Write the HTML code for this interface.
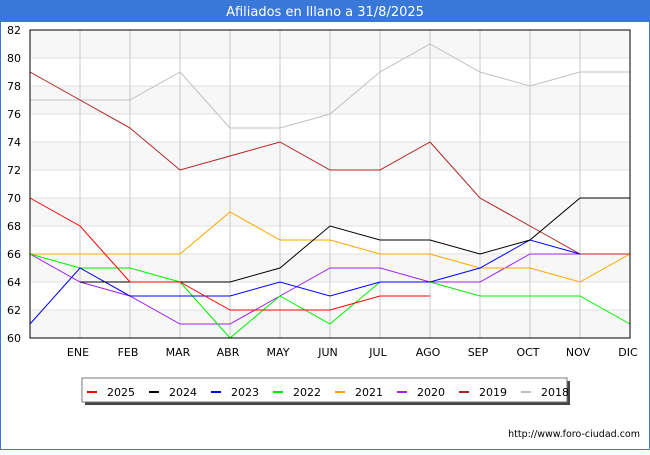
<!DOCTYPE html>
<html><head><meta charset="utf-8"><style>
body{margin:0;width:650px;height:450px;background:#fff;font-family:"Liberation Sans","DejaVu Sans",sans-serif;overflow:hidden}
</style></head><body>
<svg width="650" height="450" font-family="DejaVu Sans, Liberation Sans, sans-serif">
<rect x="0" y="0" width="650" height="450" fill="#fff" stroke="#3a78d8" stroke-width="2"/>
<rect x="0" y="0" width="650" height="22" fill="#3a78d8"/>
<text x="325" y="16" text-anchor="middle" fill="#fff" font-size="13">Afiliados en Illano a 31/8/2025</text>
<g id="bands"></g><g id="grid"></g><g id="ticks"></g><g id="lines"></g>
<rect x="30" y="30" width="600" height="308" fill="none" stroke="#000" stroke-width="1"/>
<text x="640" y="437" text-anchor="end" font-size="9.5" fill="#000">http://www.foro-ciudad.com</text>
<rect x="85" y="381" width="485" height="24" fill="#444"/>
<rect x="82" y="378" width="485" height="24" fill="#fff" stroke="#777"/>
<g id="legend"></g>
</svg>
<script>
const months=["","ENE","FEB","MAR","ABR","MAY","JUN","JUL","AGO","SEP","OCT","NOV","DIC"];
const yTicks=[60,62,64,66,68,70,72,74,76,78,80,82];
const seriesNames=["2025","2024","2023","2022","2021","2020","2019","2018"];
const colors=["#ff0000","#000000","#0000ff","#00ee00","#ffa500","#a020f0","#b22222","#c0c0c0"];
const s2025=[70,68,64,64,62,62,62,63,63,null,null,null,null];
const s2024=[null,64,64,64,64,65,68,67,67,66,67,70,70];
const s2023=[61,65,63,63,63,64,63,64,64,65,67,66,null];
const s2022=[66,65,65,64,60,63,61,64,64,63,63,63,61];
const s2021=[66,66,66,66,69,67,67,66,66,65,65,64,66];
const s2020=[66,64,63,61,61,63,65,65,64,64,66,66,null];
const s2019=[79,77,75,72,73,74,72,72,74,70,68,66,66];
const s2018=[77,77,77,79,75,75,76,79,81,79,78,79,79];
const allSeries=[s2025,s2024,s2023,s2022,s2021,s2020,s2019,s2018];
const NS="http://www.w3.org/2000/svg";
const X=i=>30+i*50, Y=v=>338-(v-60)*14;
function mk(t,a,p){const e=document.createElementNS(NS,t);for(const k in a)e.setAttribute(k,a[k]);p.appendChild(e);return e;}
const bands=document.getElementById('bands'),grid=document.getElementById('grid'),ticks=document.getElementById('ticks'),lines=document.getElementById('lines'),legend=document.getElementById('legend');
for(let i=0;i<yTicks.length-1;i++){
  const r=mk('rect',{x:30,y:Y(yTicks[i+1]),width:600,height:Y(yTicks[i])-Y(yTicks[i+1]),fill:(i%2==0)?'#f7f7f7':'#fff'},bands);
  
  
}
yTicks.forEach(v=>{
  const l=mk('line',{x1:30,x2:630,y1:Y(v),y2:Y(v),stroke:'#e2e2e2'},grid);
  
  
  const t=mk('text',{x:21,y:Y(v)+4,'text-anchor':'end','font-size':11},ticks);t.textContent=v;
  
  
});
months.forEach((m,i)=>{
  if(i==0)return;
  const l=mk('line',{x1:X(i),x2:X(i),y1:30,y2:338,stroke:'#c8c8c8'},grid);
  
  
  const t=mk('text',{x:X(i)-2,y:356,'text-anchor':'middle','font-size':11},ticks);t.textContent=m;
  
  
});
for(let s=allSeries.length-1;s>=0;s--){
  const d=allSeries[s];let path='',pen=false;
  d.forEach((v,i)=>{if(v==null){pen=false;return;}path+=(pen?'L':'M')+X(i)+' '+Y(v)+' ';pen=true;});
  const p=mk('path',{d:path,fill:'none',stroke:colors[s],'stroke-width':1},lines);
  
  
}
seriesNames.forEach((n,i)=>{
  const x=87+i*62;
  const sw=mk('rect',{x:x,y:391,width:10,height:2,fill:colors[i]},legend);
  
  
  const t=mk('text',{x:x+20,y:396,'font-size':11},legend);t.textContent=n;
  
  
});
</script>
</body></html>
